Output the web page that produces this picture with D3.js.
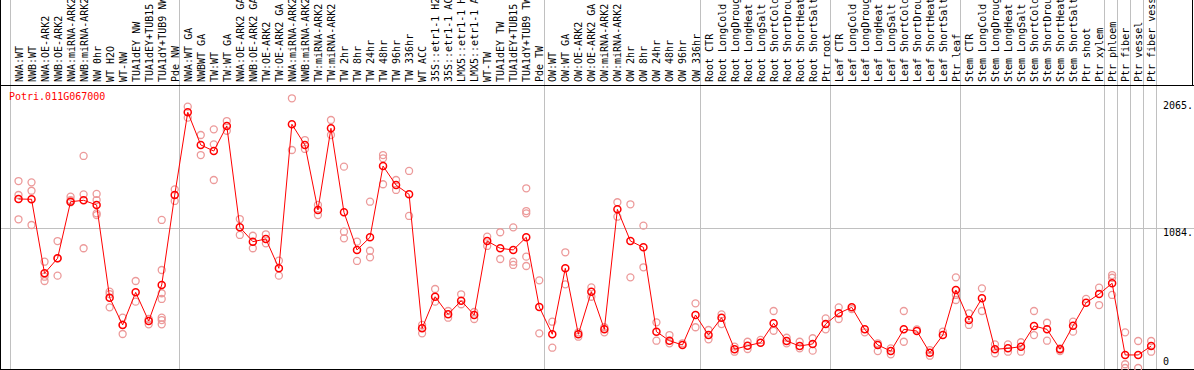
<!DOCTYPE html>
<html>
<head>
<meta charset="utf-8">
<script src="https://cdn.jsdelivr.net/npm/d3@7"></script>
<style>
  body { margin: 0; background: #fff; }
  text { font-family: "DejaVu Sans Mono", monospace; font-size: 10px; }
</style>
</head>
<body>
<svg id="chart" width="1194" height="370"></svg>
<script>
var geneName = "Potri.011G067000";

var labels = ["NWA:WT", "NWB:WT", "NWA:OE-ARK2", "NWB:OE-ARK2", "NWA:miRNA-ARK2", "NWB:miRNA-ARK2",
    "NW 0hr", "WT H2O", "WT-NW", "TUA1dEY NW", "TUA1dEY+TUB15", "TUA1dY+TUB9 NW", "Pde NW",
    "NWA:WT GA", "NWBWT GA", "TW:WT", "TW:WT GA", "NWA:OE-ARK2 GA", "NWB:OE-ARK2 GA", "TW:OE-ARK2",
    "TW:OE-ARK2 GA", "NWA:miRNA-ARK2", "NWB:miRNA-ARK2", "TW:miRNA-ARK2", "TW:miRNA-ARK2 ",
    "TW 2hr", "TW 8hr", "TW 24hr", "TW 48hr", "TW 96hr", "TW 336hr", "WT ACC",
    "35S::etr1-1 H2O", "35S::etr1-1 ACC", "LMX5::etr1-1 H2O", "LMX5::etr1-1 ACC", "WT-TW",
    "TUA1dEY TW", "TUA1dEY+TUB15 ", "TUA1dY+TUB9 TW", "Pde TW",
    "OW:WT", "OW:WT GA", "OW:OE-ARK2", "OW:OE-ARK2 GA", "OW:miRNA-ARK2", "OW:miRNA-ARK2 ",
    "OW 2hr", "OW 8hr", "OW 24hr", "OW 48hr", "OW 96hr", "OW 336hr",
    "Root CTR", "Root LongCold", "Root LongDrought", "Root LongHeat", "Root LongSalt",
    "Root ShortCold", "Root ShortDrought", "Root ShortHeat", "Root ShortSalt", "Ptr root",
    "Leaf CTR", "Leaf LongCold", "Leaf LongDrought", "Leaf LongHeat", "Leaf LongSalt",
    "Leaf ShortCold", "Leaf ShortDrought", "Leaf ShortHeat", "Leaf ShortSalt", "Ptr leaf",
    "Stem CTR", "Stem LongCold", "Stem LongDrought", "Stem LongHeat", "Stem LongSalt",
    "Stem ShortCold", "Stem ShortDrought", "Stem ShortHeat", "Stem ShortSalt", "Ptr shoot",
    "Ptr xylem", "Ptr phloem", "Ptr fiber", "Ptr vessel", "Ptr fiber vessel"];

var means = [1307, 1305, 732, 848, 1286, 1297, 1261, 544, 333, 585, 363, 642, 1338,
    1978, 1725, 1678, 1872, 1088, 977, 998, 771, 1885, 1725, 1222, 1854, 1204, 913, 1011,
    1562, 1415, 1343, 307, 551, 415, 520, 410, 982, 926, 913, 1011, 472,
    261, 771, 261, 590, 299, 1227, 982, 933, 281, 211, 178, 410,
    255, 389, 145, 172, 196, 346, 209, 170, 186, 340,
    423, 469, 299, 178, 131, 299, 286, 118, 255, 603,
    371, 539, 145, 152, 165, 325, 299, 145, 327, 505,
    572, 655, 101, 101, 170];

var reps = [
    [1446, 1338, 1150], [1436, 1371, 1106], [822, 706, 673], [982, 714, 848],
    [1325, 1282, 1299], [1640, 1343, 926], [1346, 1299, 1196, 1183], [590, 572, 469],
    [389, 333, 263], [673, 513], [379, 338], [1145, 758, 578, 534, 389, 371, 338],
    [1382, 1292], [2021, 1936], [1802, 1647], [1846, 1730, 1454], [1910, 1835],
    [1152, 1029], [1023, 926], [1034, 964], [830, 714], [2086, 1686], [1763, 1694],
    [1261, 1183], [1918, 1802], [1557, 1054, 1003], [977, 828], [1286, 907, 856],
    [1647, 1622, 1421], [1454, 1377], [1524, 1176], [333, 268], [611, 513], [441, 389],
    [570, 493], [433, 379], [1016, 944], [1050, 843], [1088, 822, 797],
    [1390, 1214, 1196, 861, 789], [678, 268], [358, 157], [895, 647], [276, 242],
    [624, 551], [315, 276], [1282, 1170], [1266, 701], [1101, 779], [353, 211],
    [255, 191], [191], [500, 315], [294, 222], [415, 340], [165, 126], [203, 147],
    [217], [441, 288], [234, 191], [203, 152], [230, 134], [384, 299], [469, 379],
    [456], [276], [191, 131], [106, 152], [441, 203], [299], [139, 95], [281],
    [701, 565, 526], [423, 333], [616, 441], [183, 114], [183, 126], [199, 126],
    [441, 255], [350, 211], [152, 131], [358, 281], [534], [621, 487], [719, 698, 565],
    [276, 29, 0], [209, 0], [209, 126]];

var groupStarts = [0, 13, 41, 53, 63, 73, 84, 85, 86, 87];
var tickVals = [0, 1084, 2065];
var tickText = ["0", "1084.", "2065."];

var svg = d3.select("#chart");
var W = 1194, H = 370;
var headerBottom = 85, plotBottom = 369;

var x = d3.scaleBand()
    .domain(d3.range(labels.length))
    .range([10, 1155.7]);
var y = d3.scaleLinear()
    .domain([0, 2065])
    .range([368, 101]);

var px = function(i) { return x(i) + 8.5; };

// group separators (whole height)
var sepX = groupStarts.map(function(k) { return x(k); });
sepX.push(x.range()[1]);
svg.selectAll("line.sep")
    .data(sepX)
    .enter()
    .append("line")
    .attr("class", "sep")
    .attr("x1", function(d) { return Math.round(d) + 0.5; })
    .attr("x2", function(d) { return Math.round(d) + 0.5; })
    .attr("y1", 0)
    .attr("y2", H)
    .style("stroke", "#c0c0c0");

// gray line at middle tick
svg.append("line")
    .attr("x1", 0).attr("x2", W)
    .attr("y1", Math.round(y(1084)) + 0.5)
    .attr("y2", Math.round(y(1084)) + 0.5)
    .style("stroke", "#c0c0c0");

// frame
svg.append("line").attr("x1", 0).attr("x2", W).attr("y1", headerBottom + 0.5).attr("y2", headerBottom + 0.5).style("stroke", "#000");
svg.append("line").attr("x1", 0).attr("x2", W).attr("y1", plotBottom + 0.5).attr("y2", plotBottom + 0.5).style("stroke", "#000");
svg.append("line").attr("x1", 0.5).attr("x2", 0.5).attr("y1", 0).attr("y2", H).style("stroke", "#000");
svg.append("line").attr("x1", 1192.5).attr("x2", 1192.5).attr("y1", 0).attr("y2", headerBottom).style("stroke", "#000");

// column labels
svg.append("g")
    .selectAll("text")
    .data(labels)
    .enter()
    .append("text")
    .attr("transform", function(d, i) {
        return "translate(" + (px(i) + 4) + "," + 82 + ") rotate(-90)";
    })
    .style("fill", "#000")
    .text(function(d) { return d.trim(); });

// replicate points
var repPts = [];
reps.forEach(function(arr, i) {
    arr.forEach(function(v) { repPts.push({ i: i, v: v }); });
});
svg.append("g")
    .selectAll("circle")
    .data(repPts)
    .enter()
    .append("circle")
    .attr("cx", function(d) { return px(d.i); })
    .attr("cy", function(d) { return y(d.v); })
    .attr("r", 3.5)
    .style("fill", "none")
    .style("stroke", "#ec9a9a")
    .style("stroke-width", 1.3);

// mean line
var line = d3.line()
    .x(function(d, i) { return px(i); })
    .y(function(d) { return y(d); });
svg.append("path")
    .datum(means)
    .attr("d", line)
    .style("fill", "none")
    .style("stroke", "#ff0000")
    .style("stroke-width", 1);

svg.append("g")
    .selectAll("circle")
    .data(means)
    .enter()
    .append("circle")
    .attr("cx", function(d, i) { return px(i); })
    .attr("cy", function(d) { return y(d); })
    .attr("r", 3.5)
    .style("fill", "none")
    .style("stroke", "#ff0000")
    .style("stroke-width", 1.5);

// value labels on the right
svg.append("g")
    .selectAll("text")
    .data(tickVals)
    .enter()
    .append("text")
    .attr("x", 1163)
    .attr("y", function(d) { return Math.min(y(d) + 8, 365); })
    .style("fill", "#000")
    .text(function(d, i) { return tickText[i]; });

// gene name
svg.append("text")
    .attr("x", 9)
    .attr("y", 100)
    .style("fill", "#ff0000")
    .text(geneName);
</script>
</body>
</html>
